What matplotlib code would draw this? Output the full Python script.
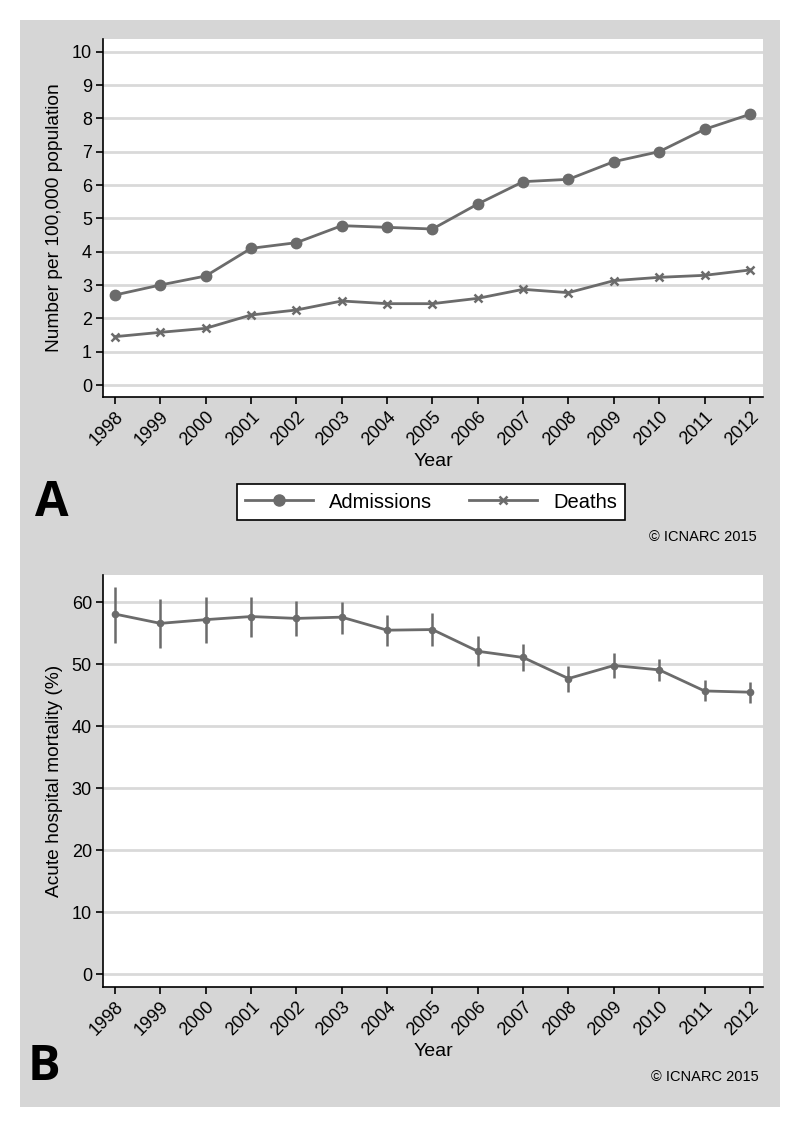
import matplotlib
matplotlib.use("Agg")
import matplotlib.pyplot as plt
from matplotlib.patches import Rectangle
from matplotlib.lines import Line2D

# ── data ──────────────────────────────────────────────────────────────────────
years = list(range(1998, 2013))
admissions = [2.70, 3.00, 3.27, 4.10, 4.27, 4.78, 4.73, 4.68, 5.43, 6.10, 6.17, 6.70, 7.00, 7.67, 8.12]
deaths = [1.45, 1.58, 1.70, 2.10, 2.25, 2.52, 2.44, 2.44, 2.60, 2.87, 2.77, 3.13, 3.23, 3.29, 3.45]
mortality = [58.1, 56.6, 57.2, 57.7, 57.4, 57.6, 55.5, 55.6, 52.1, 51.1, 47.7, 49.8, 49.1, 45.7, 45.5]
mort_lo = [53.5, 52.6, 53.4, 54.4, 54.5, 54.9, 52.9, 53.0, 49.7, 48.9, 45.5, 47.8, 47.3, 44.0, 43.8]
mort_hi = [62.4, 60.5, 60.9, 60.9, 60.2, 60.0, 57.9, 58.2, 54.5, 53.3, 49.8, 51.9, 50.9, 47.5, 47.1]

# ── style ─────────────────────────────────────────────────────────────────────
W, H = 800, 1128
BG = "#d6d6d6"
GRID = "#d9d9d9"
LINE = "#6b6b6b"
ARIAL = ["Liberation Sans", "DejaVu Sans"]


def px_box(x0, y0, x1, y1):
    return [x0 / W, 1 - y1 / H, (x1 - x0) / W, (y1 - y0) / H]


fig = plt.figure(figsize=(W / 100, H / 100), dpi=100, facecolor="white")
bg = Rectangle((20 / W, 1 - 1107 / H), 760 / W, 1087 / H,
               transform=fig.transFigure, facecolor=BG, edgecolor="none",
               zorder=-5)
fig.add_artist(bg)


def style_ax(ax, yticks):
    ax.set_facecolor("white")
    for s in ("top", "right"):
        ax.spines[s].set_visible(False)
    for s in ("left", "bottom"):
        ax.spines[s].set_linewidth(1.2)
        ax.spines[s].set_color("black")
    ax.set_yticks(yticks)
    ax.set_xticks(years)
    ax.set_xlim(1997.735, 2012.29)
    ax.yaxis.grid(True, color=GRID, linewidth=2.0)
    ax.set_axisbelow(True)
    ax.tick_params(length=5, width=1.2, direction="out", labelsize=13, pad=3)
    ax.set_xticklabels([str(y) for y in years], rotation=45, ha="right",
                       va="top", rotation_mode="anchor", family=ARIAL)
    ax.set_yticklabels([str(v) for v in yticks], family=ARIAL)
    ax.set_xlabel("Year", fontsize=14, family=ARIAL, labelpad=3)


# ── Panel A ───────────────────────────────────────────────────────────────────
ax1 = fig.add_axes(px_box(103, 39, 763, 397))
style_ax(ax1, list(range(0, 11)))
ax1.set_ylim(-0.36, 10.38)
ax1.plot(years, admissions, color=LINE, linewidth=2.0, marker="o", markersize=7.5)
ax1.plot(years, deaths, color=LINE, linewidth=2.0, marker="x", markersize=5.5,
         markeredgewidth=1.8)
ax1.set_ylabel("Number per 100,000 population", fontsize=13.8, family=ARIAL,
               labelpad=6)

handles = [Line2D([], [], color=LINE, linewidth=2.0, marker="o", markersize=8),
           Line2D([], [], color=LINE, linewidth=2.0, marker="x", markersize=5.5,
                  markeredgewidth=1.8)]
leg = fig.legend(handles, ["Admissions", "Deaths"], ncol=2, loc="center",
                 bbox_to_anchor=(431 / W, 1 - 502 / H), fancybox=False,
                 edgecolor="black", framealpha=1, handlelength=3.4,
                 columnspacing=1.8, prop={"family": ARIAL, "size": 14.5})
leg.get_frame().set_linewidth(1.2)

fig.text(35 / W, 1 - 504 / H, "A", fontsize=35, fontweight="bold",
         family=["Open Sans", "DejaVu Sans"], va="center", ha="left")
fig.text(757 / W, 1 - 537 / H, "© ICNARC 2015", fontsize=10.5, family=ARIAL,
         ha="right", va="center")

# ── Panel B ───────────────────────────────────────────────────────────────────
ax2 = fig.add_axes(px_box(103, 575, 763, 987))
style_ax(ax2, list(range(0, 61, 10)))
ax2.set_ylim(-2.05, 64.4)
err_lo = [m - lo for m, lo in zip(mortality, mort_lo)]
err_hi = [hi - m for m, hi in zip(mortality, mort_hi)]
ax2.errorbar(years, mortality, yerr=[err_lo, err_hi], color=LINE, linewidth=2.0,
             elinewidth=1.8, capsize=0, marker="o", markersize=4.5)
ax2.set_ylabel("Acute hospital mortality (%)", fontsize=13.8, family=ARIAL,
               labelpad=6)

fig.text(28 / W, 1 - 1068 / H, "B", fontsize=35, fontweight="bold",
         family=["Open Sans", "DejaVu Sans"], va="center", ha="left")
fig.text(759 / W, 1 - 1077 / H, "© ICNARC 2015", fontsize=10.5, family=ARIAL,
         ha="right", va="center")

fig.savefig("out.png", dpi=100, facecolor=fig.get_facecolor())
